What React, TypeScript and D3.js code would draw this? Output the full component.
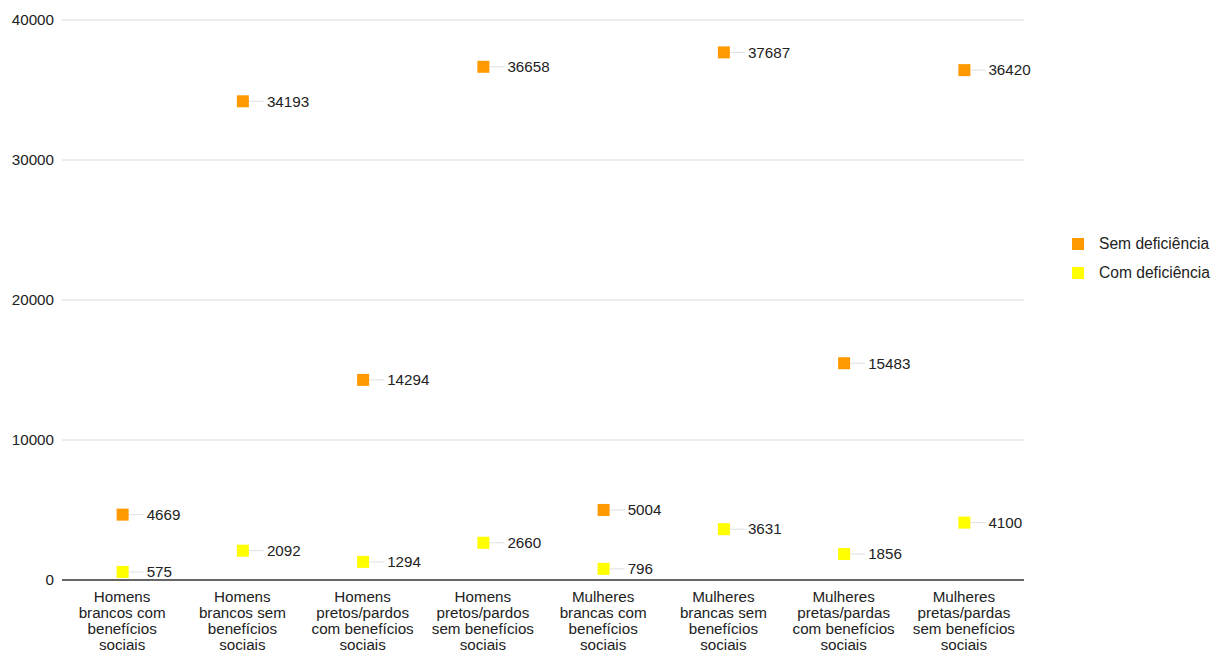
import React from "react";
import * as d3 from "d3";

const categories: string[][] = [
  ["Homens", "brancos com", "benefícios", "sociais"],
  ["Homens", "brancos sem", "benefícios", "sociais"],
  ["Homens", "pretos/pardos", "com benefícios", "sociais"],
  ["Homens", "pretos/pardos", "sem benefícios", "sociais"],
  ["Mulheres", "brancas com", "benefícios", "sociais"],
  ["Mulheres", "brancas sem", "benefícios", "sociais"],
  ["Mulheres", "pretas/pardas", "com benefícios", "sociais"],
  ["Mulheres", "pretas/pardas", "sem benefícios", "sociais"],
];
const semDeficiencia = [4669, 34193, 14294, 36658, 5004, 37687, 15483, 36420];
const comDeficiencia = [575, 2092, 1294, 2660, 796, 3631, 1856, 4100];
const yTicks = [0, 10000, 20000, 30000, 40000];
const seriesNames = ["Sem deficiência", "Com deficiência"];
const seriesColors = ["#ff9900", "#ffff00"];

const W = 1222;
const H = 653;
const left = 62;
const right = 1024;
const top = 20;
const bottom = 580;
const font = "'Liberation Sans', Arial, sans-serif";
const fs = 15.2;

export default function App() {
  const x = d3
    .scaleBand<number>()
    .domain(d3.range(categories.length))
    .range([left, right]);
  const y = d3.scaleLinear().domain([0, 40000]).range([bottom, top]);
  const series = [semDeficiencia, comDeficiencia];
  const sq = 12;

  return (
    <svg
      width={W}
      height={H}
      style={{ position: "absolute", left: 0, top: 0, fontFamily: font }}
    >
      <rect width={W} height={H} fill="#fff" />
      {yTicks.map((t) => (
        <g key={t}>
          {t !== 0 && (
            <line x1={left} x2={right} y1={y(t)} y2={y(t)} stroke="#dadada" strokeWidth={1} />
          )}
          <text
            x={54}
            y={y(t)}
            dy="0.35em"
            textAnchor="end"
            fontSize={fs}
            fill="#222"
          >
            {t}
          </text>
        </g>
      ))}
      <line x1={left} x2={right} y1={y(0)} y2={y(0)} stroke="#333" strokeWidth={1.5} />

      {categories.map((lines, i) => {
        const cx = (x(i) ?? 0) + x.bandwidth() / 2;
        return (
          <text key={i} x={cx} textAnchor="middle" fontSize={fs} fill="#222">
            {lines.map((ln, j) => (
              <tspan key={j} x={cx} y={602 + j * 16}>
                {ln}
              </tspan>
            ))}
          </text>
        );
      })}

      {series.map((vals, s) =>
        vals.map((v, i) => {
          const cx = (x(i) ?? 0) + x.bandwidth() / 2 + 0.5;
          const cy = y(v);
          return (
            <g key={`${s}-${i}`}>
              <line
                x1={cx + sq / 2}
                x2={cx + 21}
                y1={cy}
                y2={cy}
                stroke="#e0e0e0"
                strokeWidth={1}
              />
              <rect
                x={cx - sq / 2}
                y={cy - sq / 2}
                width={sq}
                height={sq}
                fill={seriesColors[s]}
              />
              <text x={cx + 24} y={cy} dy="0.35em" fontSize={fs} fill="#222">
                {v}
              </text>
            </g>
          );
        })
      )}

      {seriesNames.map((n, s) => (
        <g key={n}>
          <rect x={1072} y={238 + s * 29} width={12} height={12} fill={seriesColors[s]} />
          <text x={1099} y={244 + s * 29} dy="0.35em" fontSize={15.6} fill="#222">
            {n}
          </text>
        </g>
      ))}
    </svg>
  );
}
